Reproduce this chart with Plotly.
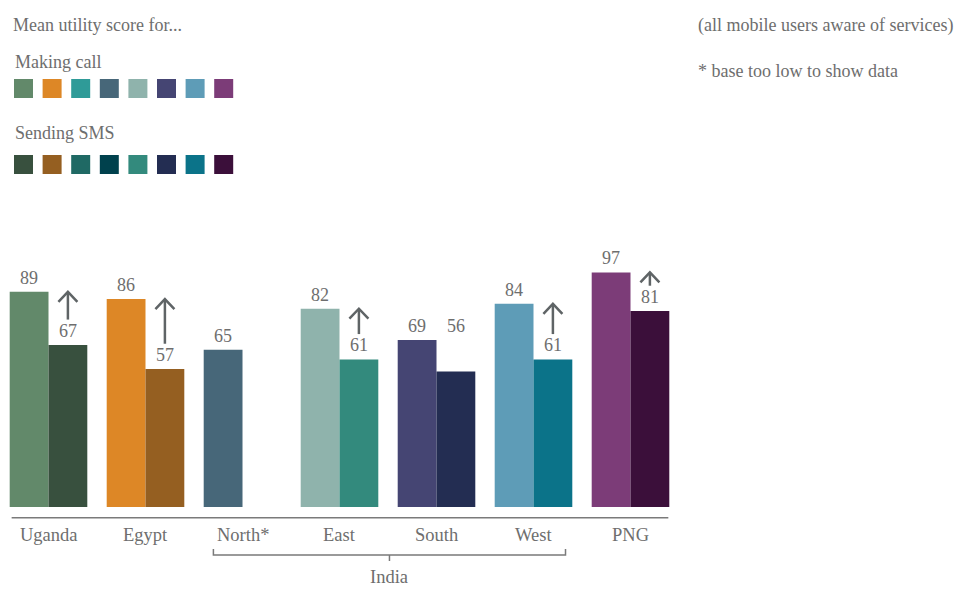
import plotly.graph_objects as go

# ---- data ----
categories = ["Uganda", "Egypt", "North*", "East", "South", "West", "PNG"]
call_values = [89, 86, 65, 82, 69, 84, 97]
sms_values = [67, 57, None, 61, 56, 61, 81]
sms_arrow = [True, True, False, True, False, True, True]   # significant gap shown with arrow
call_colors = ["#62896A", "#DD8726", "#476779", "#8FB3AC", "#454573", "#5E9CB7", "#7C3C78"]
sms_colors = ["#38503E", "#955F21", "#00414D", "#338A7D", "#232D52", "#0B7389", "#3B0F3A"]
legend_call_colors = ["#62896A", "#DD8726", "#2F9B98", "#476779", "#8FB3AC", "#454573", "#5E9CB7", "#7C3C78"]
legend_sms_colors = ["#38503E", "#955F21", "#1F6964", "#00414D", "#338A7D", "#232D52", "#0B7389", "#3B0F3A"]
group_label = "India"
group_members = ["North*", "East", "South", "West"]

FONT = "Liberation Serif"
TXT = "#6e6e6e"
ARROW = "#5f6466"

W, H = 961, 596
ML, MR, MT, MB = 0, 282, 241, 77
PW = W - ML - MR
PH = H - MT - MB


def px2paper_x(px):
    return (px - ML) / PW


def px2paper_y(py):
    return (H - MB - py) / PH


fig = go.Figure()
fig.add_trace(go.Bar(x=categories, y=call_values, marker=dict(color=call_colors, line_width=0),
                     name="Making call", hoverinfo="x+y"))
fig.add_trace(go.Bar(x=categories, y=sms_values, marker=dict(color=sms_colors, line_width=0),
                     name="Sending SMS", hoverinfo="x+y"))

ann = []
shapes = []
BW = 0.4  # bar width in category units (bargap 0.2, two bars)

for i, cat in enumerate(categories):
    cv = call_values[i]
    sv = sms_values[i]
    has_sms = sv is not None
    cx = i - BW / 2
    sx = i + BW / 2
    ann.append(dict(x=cx, y=cv, xref="x", yref="y", text=str(cv), showarrow=False,
                    yanchor="middle", yshift=14, font=dict(family=FONT, size=18, color=TXT)))
    if has_sms:
        label_level = sv if sms_arrow[i] else cv
        ann.append(dict(x=sx, y=label_level, xref="x", yref="y", text=str(sv), showarrow=False,
                        yanchor="middle", yshift=14, font=dict(family=FONT, size=18, color=TXT)))
        if sms_arrow[i]:
            shapes.append(dict(type="line", xref="x", yref="y", x0=sx, x1=sx, y0=sv + 10.5, y1=cv - 0.3,
                               line=dict(color=ARROW, width=2.5)))
            shapes.append(dict(type="path", xref="x", yref="y", xsizemode="pixel", ysizemode="pixel",
                               xanchor=sx, yanchor=cv, path="M -9.5,-10 L 0,0 L 9.5,-10",
                               line=dict(color=ARROW, width=2.5)))
    # category label
    ann.append(dict(x=i, y=px2paper_y(535), xref="x", yref="paper", text=cat, showarrow=False,
                    yanchor="middle", font=dict(family=FONT, size=18.5, color=TXT)))

# axis baseline
shapes.append(dict(type="line", xref="x", yref="y", x0=-0.38, x1=6.39, y0=-4.5, y1=-4.5,
                   line=dict(color="#7a7a7a", width=1.5)))

# India bracket
g0 = categories.index(group_members[0]) - 0.3
g1 = categories.index(group_members[-1]) + 0.33
gm = (g0 + g1) / 2
yb = px2paper_y(555)
yt = px2paper_y(549)
yd = px2paper_y(561)
shapes.append(dict(type="path", xref="x", yref="paper",
                   path=f"M {g0},{yt} L {g0},{yb} L {g1},{yb} L {g1},{yt}",
                   line=dict(color="#7a7a7a", width=1.5)))
shapes.append(dict(type="line", xref="x", yref="paper", x0=gm, x1=gm, y0=yb, y1=yd,
                   line=dict(color="#7a7a7a", width=1.5)))
ann.append(dict(x=gm, y=px2paper_y(577), xref="x", yref="paper", text=group_label, showarrow=False,
                yanchor="middle", font=dict(family=FONT, size=18.5, color=TXT)))

# header texts
for txt, px, py in [("Mean utility score for...", 11, 25), ("Making call", 13, 62),
                    ("Sending SMS", 13, 133), ("(all mobile users aware of services)", 696, 26),
                    ("* base too low to show data", 696, 71)]:
    ann.append(dict(x=px2paper_x(px), y=px2paper_y(py), xref="paper", yref="paper", text=txt,
                    showarrow=False, xanchor="left", yanchor="middle",
                    font=dict(family=FONT, size=18, color=TXT)))

# legend swatches
for row, (cols, py) in enumerate([(legend_call_colors, 79), (legend_sms_colors, 155)]):
    for k, c in enumerate(cols):
        x0 = 14 + k * 28.6
        shapes.append(dict(type="rect", xref="paper", yref="paper",
                           x0=px2paper_x(x0), x1=px2paper_x(x0 + 19),
                           y0=px2paper_y(py + 19), y1=px2paper_y(py),
                           fillcolor=c, line_width=0))

fig.update_layout(
    width=W, height=H,
    margin=dict(l=ML, r=MR, t=MT, b=MB),
    paper_bgcolor="white", plot_bgcolor="white",
    barmode="group", bargap=0.2, bargroupgap=0,
    showlegend=False,
    xaxis=dict(range=[-0.5, 6.5], showticklabels=False, showgrid=False, zeroline=False, showline=False,
               fixedrange=True),
    yaxis=dict(range=[-5, 110], visible=False, fixedrange=True),
    annotations=ann, shapes=shapes,
)

fig.write_html("out.html", config={"displayModeBar": False},
               post_script="document.body.style.margin='0';document.body.style.padding='0';")
